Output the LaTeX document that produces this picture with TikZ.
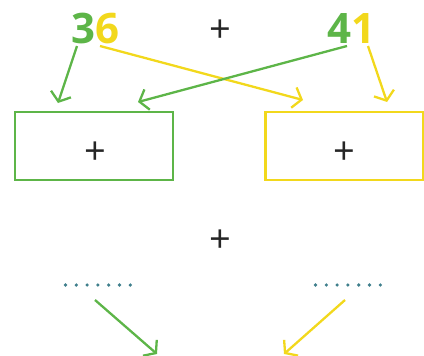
\documentclass[tikz,border=0pt]{standalone}
\usepackage{fontspec}
\setmainfont{Open Sans}
\usetikzlibrary{arrows.meta}
\definecolor{gr}{HTML}{5DB548}
\definecolor{ye}{HTML}{F2D81C}
\definecolor{dotc}{HTML}{3F7F8C}
\begin{document}
\begin{tikzpicture}[x=1pt,y=-1pt,
  digit/.style={inner sep=0pt,font=\fontsize{42}{42}\selectfont\bfseries},
  plus/.style={inner sep=0pt,font=\fontsize{38}{38}\selectfont,text=black!85},
  arr/.style={line width=2.3pt,-{Straight Barb[length=8pt,width=21pt,line width=2.3pt]}},
  bx/.style={draw,line width=2.3pt,minimum width=158pt,minimum height=68pt,inner sep=0pt},
  dotrow/.style={dotc,line width=3.6pt,line cap=round,dash pattern=on 0pt off 10.8pt}]
\useasboundingbox (0,0) rectangle (424,356);
% top numbers
\node[digit,text=gr,anchor=base] (n3) at (83,43) {3};
\node[digit,text=ye,anchor=base] (n6) at (107,43) {6};
\node[plus] (ptop) at (220,31) {+};
\node[digit,text=gr,anchor=base] (n4) at (339,43) {4};
\node[digit,text=ye,anchor=base] (n1) at (363,43) {1};
% boxes
\node[bx,draw=gr] (bl) at (94,146) {};
\node[bx,draw=ye] (br) at (344.5,146) {};
\node[plus] (pl) at (95,153) {+};
\node[plus] (pr) at (344,153) {+};
\node[plus] (pmid) at (220,241) {+};
% arrow ends
\coordinate (t3) at (58,103);
\coordinate (t6) at (303,100);
\coordinate (t4) at (138,102);
\coordinate (t1) at (387,102);
\coordinate (s3) at (77,46);
\coordinate (s6) at (100,46);
\coordinate (s4) at (347,46);
\coordinate (s1) at (368,46);
\draw[arr,ye] (s6) -- (t6);
\draw[arr,gr] (s3) -- (t3);
\draw[arr,gr] (s4) -- (t4);
\draw[arr,ye] (s1) -- (t1);
% dots
\coordinate (dl1) at (65.5,285);
\coordinate (dl2) at (131,285);
\coordinate (dr1) at (315.5,285);
\coordinate (dr2) at (381,285);
\draw[dotrow] (dl1) -- (dl2);
\draw[dotrow] (dr1) -- (dr2);
% bottom arrows
\coordinate (bs1) at (95,300);
\coordinate (bt1) at (157,354);
\coordinate (bs2) at (345,300);
\coordinate (bt2) at (284,354);
\draw[arr,gr] (bs1) -- (bt1);
\draw[arr,ye] (bs2) -- (bt2);
\end{tikzpicture}
\end{document}
